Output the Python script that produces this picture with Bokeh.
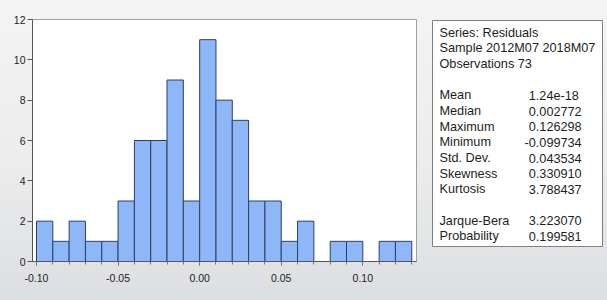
from bokeh.plotting import figure
from bokeh.models import Range1d, SingleIntervalTicker, ColumnDataSource, FixedTicker, CustomJSTickFormatter
from bokeh.layouts import row
from bokeh.embed import file_html
from bokeh.resources import INLINE
from bokeh.core.properties import value

# ---- data ----
bin_left = [-0.10, -0.09, -0.08, -0.07, -0.06, -0.05, -0.04, -0.03, -0.02, -0.01,
            0.00, 0.01, 0.02, 0.03, 0.04, 0.05, 0.06, 0.07, 0.08, 0.09, 0.10, 0.11, 0.12]
counts = [2, 1, 2, 1, 1, 3, 6, 6, 9, 3, 11, 8, 7, 3, 3, 1, 2, 0, 1, 1, 0, 1, 1]
bin_width = 0.01

header_lines = ["Series: Residuals", "Sample 2012M07 2018M07", "Observations 73"]
stat_names = ["Mean", "Median", "Maximum", "Minimum", "Std. Dev.", "Skewness", "Kurtosis"]
stat_values = ["1.24e-18", "0.002772", "0.126298", "-0.099734", "0.043534", "0.330910", "3.788437"]
test_names = ["Jarque-Bera", "Probability"]
test_values = ["3.223070", "0.199581"]

FONT = "Liberation Sans"
TXT = "#1e1e1e"
BG = "linear-gradient(180deg, #f4f4f4 0%, #ececec 55%, #dcdee2 100%)"

# ---- histogram ----
xs = [b + bin_width / 2 for b, c in zip(bin_left, counts) if c > 0]
tops = [c for c in counts if c > 0]
src = ColumnDataSource(dict(x=xs, top=tops))

p = figure(width=424, height=300, output_backend="svg", toolbar_location=None,
           x_range=Range1d(-0.10245, 0.1329), y_range=Range1d(0, 12),
           min_border_left=32, min_border_right=8, min_border_top=19, min_border_bottom=39,
           styles={"background": BG})
p.frame_align = False
p.border_fill_alpha = 0
p.background_fill_color = "white"
p.outline_line_color = "#a0a0a0"
p.xgrid.visible = False
p.ygrid.visible = False

p.vbar(x="x", top="top", width=bin_width, bottom=0, source=src,
       fill_color="#8db7f6", line_color="#2e3f66", line_width=1)

p.xaxis.ticker = SingleIntervalTicker(interval=0.05, num_minor_ticks=5)
p.yaxis.ticker = FixedTicker(ticks=[0, 2, 4, 6, 8, 10, 12])
for ax in (p.xaxis[0], p.yaxis[0]):
    ax.axis_line_color = "#555555"
    ax.major_tick_line_color = "#555555"
    ax.minor_tick_line_color = "#777777"
    ax.major_label_text_font = FONT
    ax.major_label_text_font_size = "10.5px"
    ax.major_label_text_color = TXT
    ax.major_tick_in = 0
p.xaxis.major_tick_out = 4
p.xaxis.minor_tick_out = 3
p.xaxis.minor_tick_in = 0
p.xaxis.major_label_standoff = 8
p.yaxis.major_tick_out = 5
p.yaxis.minor_tick_line_color = None
p.yaxis.major_label_standoff = 2
p.xaxis.formatter = CustomJSTickFormatter(code="return tick.toFixed(2);")

# ---- statistics box ----
s = figure(width=183, height=300, output_backend="svg", toolbar_location=None,
           x_range=Range1d(0, 170), y_range=Range1d(226, 0),
           x_axis_location=None, y_axis_location=None,
           min_border_left=8, min_border_right=5, min_border_top=20, min_border_bottom=54,
           styles={"background": BG})
s.frame_align = False
s.border_fill_alpha = 0
s.background_fill_color = "white"
s.outline_line_color = "#808080"
s.xgrid.visible = False
s.ygrid.visible = False

LH = 15.65
Y0 = 12.3
lab_x = 7
dec_x = 103.3

hdr_rows = list(range(len(header_lines)))
stat_rows = [len(header_lines) + 1 + i for i in range(len(stat_names))]
test_rows = [stat_rows[-1] + 2 + i for i in range(len(test_names))]

left_text = header_lines + stat_names + test_names
left_rows = hdr_rows + stat_rows + test_rows
s.text(x=[lab_x] * len(left_text), y=[Y0 + r * LH for r in left_rows], text=left_text,
       text_font=value(FONT), text_font_size="12.7px", text_color=TXT,
       text_align="left", text_baseline="middle")

vals = stat_values + test_values
val_rows = stat_rows + test_rows
int_parts = [v.split(".", 1)[0] for v in vals]
frac_parts = ["." + v.split(".", 1)[1] for v in vals]
vy = [Y0 + r * LH for r in val_rows]
s.text(x=[dec_x] * len(vals), y=vy, text=int_parts,
       text_font=value(FONT), text_font_size="12.7px", text_color=TXT,
       text_align="right", text_baseline="middle")
s.text(x=[dec_x] * len(vals), y=vy, text=frac_parts,
       text_font=value(FONT), text_font_size="12.7px", text_color=TXT,
       text_align="left", text_baseline="middle")

layout = row(p, s, spacing=0)
open("out.html", "w").write(file_html(layout, INLINE))
